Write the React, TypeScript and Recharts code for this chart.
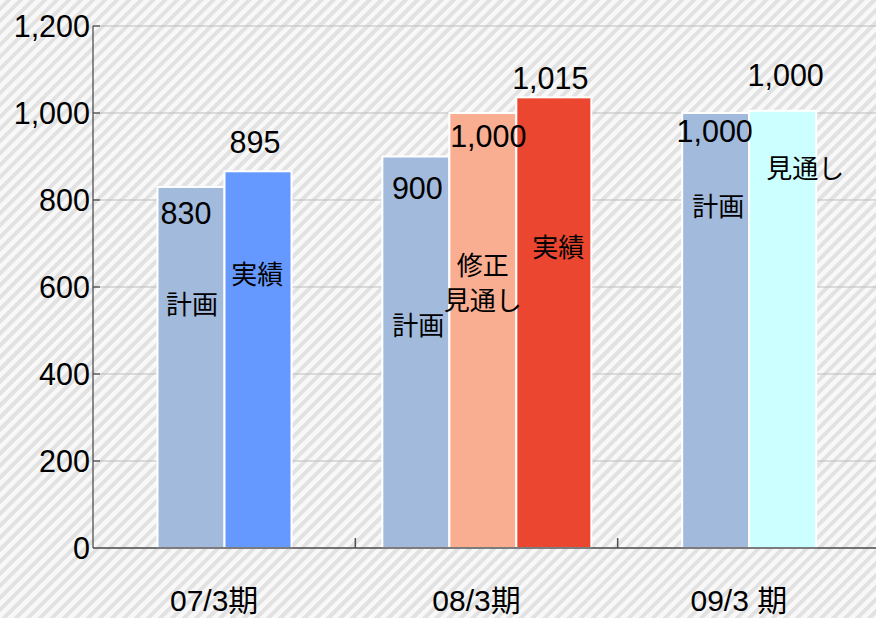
import React from 'react';
import { BarChart, Bar, XAxis, YAxis, CartesianGrid, Cell, LabelList } from 'recharts';

// ---- data ----
const categories = ['07/3期', '08/3期', '09/3 期'];
// bar heights as drawn in the picture
const planValues = [830, 900, 1000];
const secondValues = [866, 1000, 1005];
const thirdValues: (number | null)[] = [null, 1036, null];
// printed value labels
const planValueLabels = ['830', '900', '1,000'];
const secondValueLabels = ['895', '1,000', '1,000'];
const thirdValueLabels = ['', '1,015', ''];
// printed series names
const planNames = [['計画'], ['計画'], ['計画']];
const secondNames = [['実績'], ['修正', '見通し'], ['見通し']];
const thirdNames: string[][] = [[], ['実績'], []];
const yTicks = [0, 200, 400, 600, 800, 1000, 1200];

// ---- styles ----
const FONT = '"Liberation Sans", Arial, "Noto Sans CJK JP", sans-serif';
const AXIS_COLOR = '#505050';
const PLAN_COLOR = '#A2BADC';
const SECOND_COLORS = ['#6699FF', '#F9AE92', '#CCFFFF'];
const THIRD_COLORS = ['#EA4630', '#EA4630', '#EA4630'];
const BAR_SIZE = 67;
const THIRD_BAR_SIZE = 75;
const VALUE_FONT = 30.5;
const NAME_FONT = 26;
const NAME_LINE = 35;
const Y_TICK_MARGIN = 3;
const INNER_TICK = 7;
const X_TICK_MARGIN = 42;
const VALUE_DX = [[-5, 1.5, -1], [-3, 5.5, 3], [0, -3.5, 0]];
const VALUE_DY = [[26, 31, 18], [-29, 23, -36], [0, -19, 0]];
const NAME_DX = [[1, 2.5, 2.7], [-0.7, 0, 22.7], [0, 4.5, 0]];
const NAME_DY = [[118, 169, 94], [104, 153, 58], [0, 151, 0]];

const valueLabels = [planValueLabels, secondValueLabels, thirdValueLabels];
const nameLabels = [planNames, secondNames, thirdNames];

// groups with only two bars are centred in their category
const shiftFor = (i: number) => (thirdValues[i] == null ? THIRD_BAR_SIZE / 2 : 0);

const makeShape = (key: string) => (props: any) => {
  const { x, y, width, height, fill, payload } = props;
  if (!payload || payload[key] == null || !height) return <g />;
  const i = categories.indexOf(payload.cat);
  return (
    <rect
      x={x + shiftFor(i)}
      y={y}
      width={width}
      height={height}
      fill={fill}
      stroke="#ffffff"
      strokeWidth={2}
    />
  );
};

const makeLabel = (s: number) => (props: any) => {
  const vb = props.viewBox ?? props;
  const i = categories.indexOf(props.value);
  if (i < 0 || vb == null) return null;
  const vText = valueLabels[s][i];
  const names = nameLabels[s][i];
  if (!vText && names.length === 0) return null;
  const cx = vb.x + vb.width / 2 + shiftFor(i);
  const top = vb.y;
  return (
    <g>
      {vText ? (
        <text
          x={cx + VALUE_DX[s][i]}
          y={top + VALUE_DY[s][i]}
          dominantBaseline="central"
          textAnchor="middle"
          fontSize={VALUE_FONT}
          fill="#000"
        >
          {vText}
        </text>
      ) : null}
      {names.map((n, k) => (
        <text
          key={k}
          x={cx + NAME_DX[s][i]}
          y={top + NAME_DY[s][i] + k * NAME_LINE}
          dominantBaseline="central"
          textAnchor="middle"
          fontSize={NAME_FONT}
          fill="#000"
        >
          {n}
        </text>
      ))}
    </g>
  );
};

// category label plus an inward tick mark at the right boundary of the band
const XTick = (props: any) => {
  const { x, y, payload, index } = props;
  const half = payload?.offset ?? 0;
  const boundary = x + half;
  const axisY = y - X_TICK_MARGIN;
  const last = index === categories.length - 1;
  return (
    <g>
      {!last && half > 0 ? (
        <line x1={boundary} x2={boundary} y1={axisY} y2={axisY - 10} stroke={AXIS_COLOR} strokeWidth={1.5} />
      ) : null}
      <text x={x - 10} y={y} dy="0.71em" textAnchor="middle" fontSize={30} fill="#000">
        {payload.value}
      </text>
    </g>
  );
};

// value label plus an inward tick mark
const YTick = (props: any) => {
  const { x, y, payload } = props;
  const axisX = x + Y_TICK_MARGIN;
  return (
    <g>
      {payload.value !== 0 ? (
        <line x1={axisX} x2={axisX + INNER_TICK} y1={y} y2={y} stroke={AXIS_COLOR} strokeWidth={1.3} />
      ) : null}
      <text x={x} y={y} dominantBaseline="central" textAnchor="end" fontSize={30.5} fill="#000">
        {Number(payload.value).toLocaleString('en-US')}
      </text>
    </g>
  );
};

export default function App() {
  const data = categories.map((cat, i) => ({
    cat,
    plan: planValues[i],
    second: secondValues[i],
    third: thirdValues[i],
  }));
  return (
    <div
      style={{
        position: 'absolute',
        left: 0,
        top: 0,
        width: 876,
        height: 618,
        overflow: 'hidden',
        fontFamily: FONT,
        background:
          'repeating-linear-gradient(135deg, #f8f8f8 0px, #f8f8f8 4px, #e2e2e2 4.5px, #e2e2e2 8px, #f8f8f8 8.5px)',
      }}
    >
      <BarChart
        width={880}
        height={618}
        data={data}
        margin={{ top: 26, right: 0, bottom: 0, left: 0 }}
        barGap={0}
      >
        <CartesianGrid vertical={false} stroke="#bdbdbd" />
        <XAxis
          dataKey="cat"
          height={70}
          interval={0}
          tickLine={false}
          tickSize={0}
          tickMargin={X_TICK_MARGIN}
          axisLine={{ stroke: AXIS_COLOR, strokeWidth: 1.6 }}
          tick={<XTick />}
        />
        <YAxis
          width={93}
          domain={[0, 1200]}
          ticks={yTicks}
          interval={0}
          tickLine={false}
          tickSize={0}
          tickMargin={Y_TICK_MARGIN}
          axisLine={{ stroke: AXIS_COLOR, strokeWidth: 1.3 }}
          tick={<YTick />}
        />
        <Bar dataKey="plan" barSize={BAR_SIZE} fill={PLAN_COLOR} shape={makeShape('plan')} isAnimationActive={false}>
          {categories.map((c) => (
            <Cell key={c} fill={PLAN_COLOR} />
          ))}
          <LabelList dataKey="cat" content={makeLabel(0)} />
        </Bar>
        <Bar dataKey="second" barSize={BAR_SIZE} shape={makeShape('second')} isAnimationActive={false}>
          {categories.map((c, i) => (
            <Cell key={c} fill={SECOND_COLORS[i]} />
          ))}
          <LabelList dataKey="cat" content={makeLabel(1)} />
        </Bar>
        <Bar dataKey="third" barSize={THIRD_BAR_SIZE} shape={makeShape('third')} isAnimationActive={false}>
          {categories.map((c, i) => (
            <Cell key={c} fill={THIRD_COLORS[i]} />
          ))}
          <LabelList dataKey="cat" content={makeLabel(2)} />
        </Bar>
      </BarChart>
    </div>
  );
}
